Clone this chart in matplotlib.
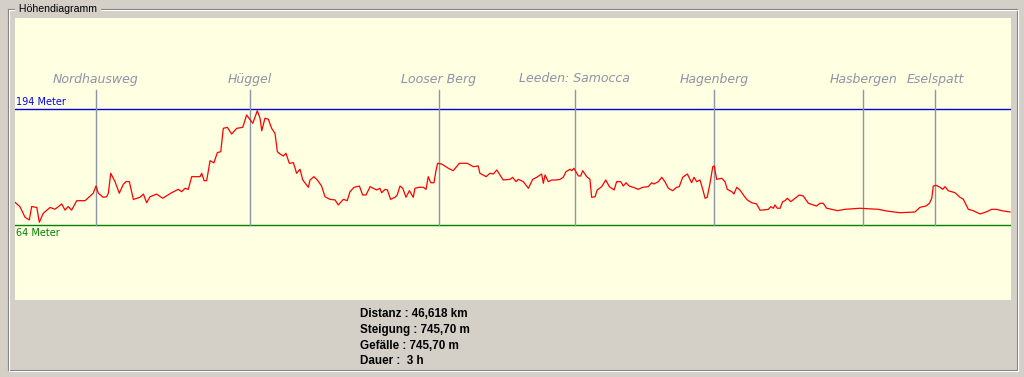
import matplotlib
matplotlib.use("Agg")
import matplotlib.pyplot as plt
from matplotlib.lines import Line2D

# elevation profile: distance (km) and height (m)
dist_km = [0, 0.23, 0.47, 0.67, 0.78, 1.02, 1.14, 1.32, 1.64, 1.87, 2.19, 2.34, 2.49, 2.65,
           2.89, 3.28, 3.66, 3.79, 3.90, 4.13, 4.29, 4.37, 4.48, 4.68, 4.88, 5.07, 5.20, 5.35,
           5.54, 5.85, 6.01, 6.16, 6.32, 6.63, 6.91, 7.33, 7.64, 7.80, 7.96, 8.11, 8.27, 8.66,
           8.74, 8.85, 8.97, 9.13, 9.31, 9.47, 9.63, 9.75, 9.94, 10.14, 10.38, 10.66, 10.84,
           11.13, 11.34, 11.47, 11.55, 11.70, 11.86, 12.01, 12.17, 12.28, 12.40, 12.56, 12.68,
           12.84, 13.03, 13.18, 13.34, 13.47, 13.73, 13.81, 13.99, 14.15, 14.35, 14.51, 14.74,
           14.98, 15.13, 15.37, 15.55, 15.68, 15.87, 16.12, 16.27, 16.43, 16.62, 16.93, 17.08,
           17.16, 17.32, 17.43, 17.58, 17.79, 17.89, 18.02, 18.15, 18.30, 18.46, 18.64, 18.72,
           18.92, 19.11, 19.24, 19.34, 19.46, 19.61, 19.71, 19.78, 19.97, 20.28, 20.51, 20.80,
           21.17, 21.45, 21.68, 21.76, 22.05, 22.23, 22.39, 22.55, 22.85, 23.17, 23.29, 23.45,
           23.56, 23.79, 24.03, 24.23, 24.42, 24.65, 24.73, 24.81, 24.96, 25.12, 25.35, 25.51,
           25.66, 25.79, 25.98, 26.06, 26.16, 26.37, 26.48, 26.57, 26.76, 26.91, 26.99, 27.15,
           27.25, 27.46, 27.65, 27.82, 28.04, 28.16, 28.35, 28.47, 28.60, 28.75, 28.94, 29.17,
           29.38, 29.64, 29.80, 29.91, 30.11, 30.27, 30.42, 30.58, 30.78, 30.97, 31.09, 31.25,
           31.47, 31.67, 31.78, 31.91, 32.06, 32.19, 32.30, 32.40, 32.53, 32.66, 32.73, 32.84,
           33.08, 33.23, 33.34, 33.55, 33.65, 33.78, 33.93, 34.17, 34.28, 34.48, 34.71, 34.87,
           35.00, 35.26, 35.37, 35.49, 35.57, 35.68, 35.81, 35.93, 36.04, 36.15, 36.31, 36.51,
           36.71, 36.90, 37.13, 37.36, 37.52, 37.68, 37.83, 37.99, 38.23, 38.49, 38.85, 39.55,
           39.94, 40.41, 40.80, 41.42, 42.12, 42.36, 42.64, 42.80, 42.91, 42.98, 43.11, 43.30,
           43.42, 43.53, 43.68, 44.00, 44.23, 44.39, 44.62, 44.85, 45.17, 45.48, 45.71, 45.95,
           46.18, 46.57]
height_m = [89.8, 84.9, 73.0, 70.0, 85.0, 84.0, 67.4, 77.4, 84.0, 82.0, 87.9, 81.0, 85.0, 81.0,
            91.6, 91.6, 99.9, 108.0, 100.0, 95.4, 96.0, 100.0, 122.3, 113.0, 100.0, 110.0, 113.0,
            113.0, 93.0, 95.4, 99.0, 89.3, 96.0, 99.0, 94.3, 100.5, 104.3, 101.7, 105.5, 104.3,
            118.5, 118.5, 122.3, 114.0, 114.0, 136.4, 134.0, 145.4, 146.5, 172.7, 173.8, 166.3,
            172.7, 173.8, 187.6, 178.3, 192.4, 184.0, 170.0, 184.0, 182.8, 172.7, 167.0, 146.5,
            144.0, 141.7, 144.7, 133.5, 134.2, 122.3, 126.8, 114.8, 106.6, 114.8, 118.5, 114.8,
            108.0, 96.0, 93.1, 92.4, 86.8, 93.1, 91.6, 101.7, 106.6, 108.0, 98.0, 98.0, 107.3,
            103.6, 105.5, 100.5, 104.3, 103.6, 93.1, 95.4, 98.0, 108.0, 105.5, 95.4, 102.8, 95.4,
            105.5, 106.6, 106.6, 104.3, 118.5, 111.7, 111.7, 126.0, 133.5, 132.7, 127.9, 125.2,
            133.5, 133.5, 129.7, 130.5, 122.3, 118.5, 122.3, 121.5, 126.0, 114.8, 115.5, 117.8,
            112.9, 115.5, 112.9, 105.5, 115.5, 117.8, 121.5, 111.1, 120.4, 112.9, 114.8, 114.8,
            115.5, 117.8, 124.1, 126.8, 125.2, 127.9, 119.3, 119.3, 125.2, 118.5, 115.5, 95.4,
            96.0, 103.6, 107.3, 114.8, 107.3, 103.6, 112.9, 112.9, 108.0, 111.7, 108.0, 106.6,
            104.3, 106.6, 107.3, 111.7, 110.3, 112.9, 117.8, 112.9, 105.5, 102.8, 106.6, 107.3,
            117.8, 121.5, 111.7, 117.8, 112.9, 114.8, 104.3, 94.3, 95.4, 111.1, 129.7, 130.5,
            115.5, 116.7, 112.9, 104.3, 101.7, 99.1, 106.6, 103.6, 95.4, 92.4, 89.3, 87.9, 81.0,
            81.1, 81.9, 84.9, 83.1, 86.8, 83.1, 83.1, 90.5, 91.6, 94.3, 90.5, 94.3, 98.0,
            96.8, 88.7, 86.8, 85.6, 88.7, 88.7, 83.1, 81.9, 80.4, 81.9, 83.1, 82.6, 81.9, 80.0,
            78.1, 78.9, 84.2, 85.6, 88.7, 94.3, 108.0, 108.8, 106.6, 104.3, 107.3, 102.8, 100.5,
            95.4, 93.1, 81.9, 80.4, 76.7, 79.2, 81.9, 81.9, 80.4, 78.9]

waypoints = ["Nordhausweg", "Hüggel", "Looser Berg", "Leeden: Samocca",
             "Hagenberg", "Hasbergen", "Eselspatt"]
waypoint_km = [3.78, 10.99, 19.83, 26.20, 32.73, 39.70, 43.07]

total_km = 46.618
max_m = 194
min_m = 64
stats = ["Distanz : 46,618 km", "Steigung : 745,70 m", "Gefälle : 745,70 m", "Dauer :  3 h"]

W, H = 1024, 377
BG = "#d4d0c8"
CREAM = "#ffffe1"
MARK = "#8c94a8"


def fx(px):
    return px / W


def fy(py):
    return 1 - py / H


fig = plt.figure(figsize=(W / 100, H / 100), dpi=100, facecolor=BG)

# group box (etched frame)
for off, col in [(0, "#808080"), (1, "white")]:
    l, r, t, b = 7.5 + off, 1016.5 + off, 8.5 + off, 369.5 + off
    fig.add_artist(Line2D([fx(l), fx(l), fx(r), fx(r), fx(l)],
                          [fy(t), fy(b), fy(b), fy(t), fy(t)],
                          color=col, lw=0.8, transform=fig.transFigure))
fig.text(fx(16), fy(8.5), " Höhendiagramm ", fontsize=7.6, family="Liberation Sans",
         va="center", ha="left", color="black",
         bbox=dict(facecolor=BG, edgecolor="none", pad=0.5))

# plot area: y mapping -> 194 m at pixel 109.3, 64 m at 225.3
ppm = (225.3 - 109.3) / (max_m - min_m)
y_top = max_m + (109.3 - 18) / ppm
y_bot = min_m - (300 - 225.3) / ppm
ax = fig.add_axes([fx(15), fy(300), fx(996), (300 - 18) / H])
ax.set_facecolor(CREAM)
ax.set_xlim(0, total_km)
ax.set_ylim(y_bot, y_top)
for s in ax.spines.values():
    s.set_visible(False)
ax.set_xticks([])
ax.set_yticks([])

ax.axhline(max_m, color="#0000e0", lw=1.0)
ax.axhline(min_m, color="#008000", lw=1.0)
ax.text(0.05, max_m + 3, f"{max_m} Meter", color="#0000ff", fontsize=7, va="bottom", ha="left")
ax.text(0.05, min_m - 3, f"{min_m} Meter", color="#008000", fontsize=7, va="top", ha="left")

mark_top = min_m + (225.3 - 90) / ppm
label_y = min_m + (225.3 - 79) / ppm
for name, km in zip(waypoints, waypoint_km):
    ax.plot([km, km], [min_m, mark_top], color=MARK, lw=1.0)
    ax.text(km, label_y, name, color=MARK, fontsize=9, style="italic",
            ha="center", va="center")

ax.plot(dist_km, height_m, color="#ff0000", lw=0.9)

for i, line in enumerate(stats):
    fig.text(fx(360), fy(314 + i * 15.8), line, fontsize=8.4, fontweight="bold",
             family="Liberation Sans", va="center", ha="left", color="black")

fig.savefig("out.png", dpi=100, facecolor=BG)
